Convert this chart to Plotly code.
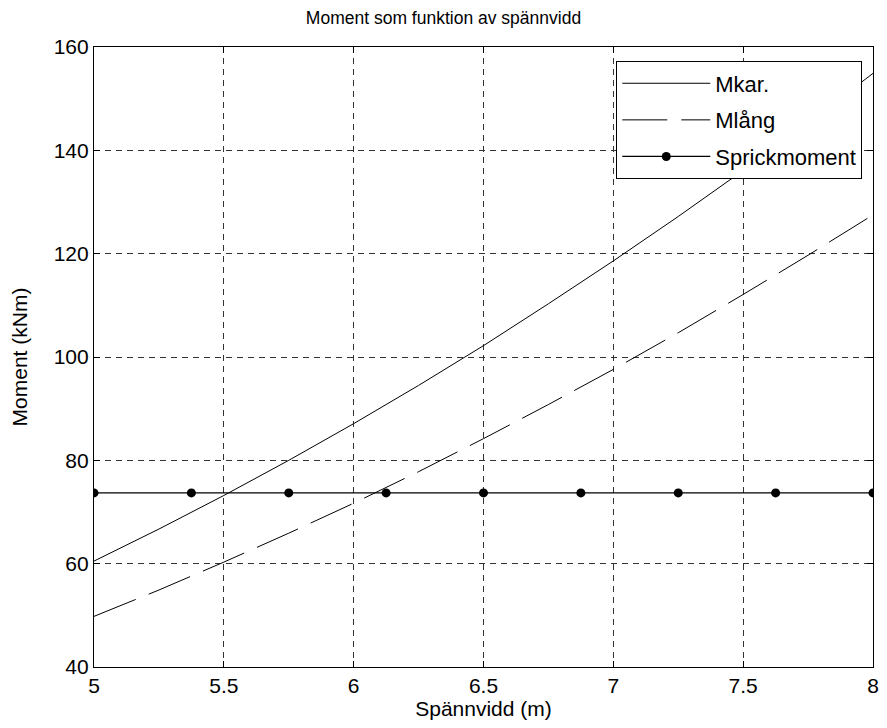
import plotly.graph_objects as go

# Span (m) and moments (kNm)
span = [5.0, 5.25, 5.5, 5.75, 6.0, 6.25, 6.5, 6.75, 7.0, 7.25, 7.5, 7.75, 8.0]
m_kar = [60.5, 66.7, 73.2, 80.0, 87.1, 94.5, 102.2, 110.3, 118.6, 127.2, 136.1, 145.3, 154.9]
m_lang = [49.8, 54.9, 60.3, 65.9, 71.7, 77.8, 84.2, 90.8, 97.6, 104.7, 112.1, 119.7, 127.5]

crack_span = [5.0, 5.375, 5.75, 6.125, 6.5, 6.875, 7.25, 7.625, 8.0]
crack_moment = [73.7] * len(crack_span)

x_ticks = [5, 5.5, 6, 6.5, 7, 7.5, 8]
x_tick_text = ["5", "5.5", "6", "6.5", "7", "7.5", "8"]

font_family = "Liberation Sans, Arial, sans-serif"

fig = go.Figure()
fig.add_trace(go.Scatter(x=span, y=m_kar, mode="lines", name="Mkar.", legendgroup="a",
                         line=dict(color="black", width=1)))
fig.add_trace(go.Scatter(x=span, y=m_lang, mode="lines", name="Mlång", legendgroup="b",
                         line=dict(color="black", width=1, dash="45px,14px")))
fig.add_trace(go.Scatter(x=crack_span, y=crack_moment, mode="lines+markers",
                         name="Sprickmoment", legendgroup="c",
                         line=dict(color="black", width=1.2),
                         marker=dict(color="black", size=9, symbol="circle")))

axis_common = dict(
    showline=True, linecolor="black", linewidth=1.2, mirror="ticks",
    ticks="inside", ticklen=6, tickcolor="black",
    showgrid=True, gridcolor="#333333", griddash="6px,5px", gridwidth=1,
    zeroline=False, tickfont=dict(size=21, color="black", family=font_family),
)

fig.update_layout(
    width=887, height=728,
    margin=dict(l=94, r=8, t=47, b=61),
    paper_bgcolor="white", plot_bgcolor="white",
    font=dict(family=font_family, color="black"),
    title=dict(text="Moment som funktion av spännvidd", x=0.5, xanchor="center",
               y=1 - 18 / 728, yanchor="middle",
               font=dict(size=17.5, color="black", family=font_family)),
    xaxis=dict(range=[5, 8], tickvals=x_ticks, ticktext=x_tick_text,
               title=dict(text="Spännvidd (m)", standoff=4,
                          font=dict(size=21, color="black")),
               **axis_common),
    yaxis=dict(range=[40, 160], dtick=20,
               title=dict(text="Moment (kNm)", standoff=20,
                          font=dict(size=21, color="black")),
               **axis_common),
    legend=dict(x=0.986, y=0.977, xanchor="right", yanchor="top",
                bgcolor="white", bordercolor="black", borderwidth=1.2,
                font=dict(size=22, color="black", family=font_family),
                tracegroupgap=5, itemwidth=88),
    showlegend=True,
)

fig.write_html("out.html")
